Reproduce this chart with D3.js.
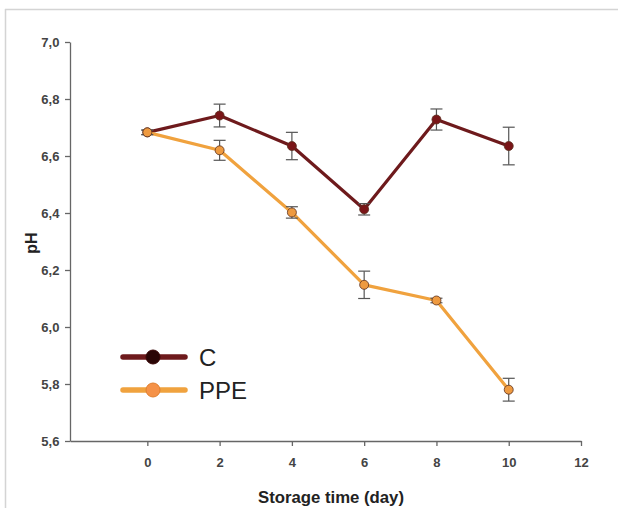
<!DOCTYPE html>
<html><head><meta charset="utf-8">
<script src="https://cdn.jsdelivr.net/npm/d3@7"></script>
<style>body{margin:0;background:#fff;}svg{display:block;font-family:"Liberation Sans",Arial,sans-serif;}</style>
</head><body><svg id="c" width="618" height="508"></svg>
<script>
const days = [0, 2, 4, 6, 8, 10];
const cValues = [6.683, 6.742, 6.635, 6.413, 6.728, 6.635];
const cErrors = [0.008, 0.040, 0.048, 0.020, 0.037, 0.066];
const ppeValues = [6.683, 6.620, 6.402, 6.148, 6.093, 5.780];
const ppeErrors = [0.008, 0.035, 0.020, 0.048, 0.008, 0.040];
const xTicks = [0, 2, 4, 6, 8, 10, 12];
const yTicks = [5.6, 5.8, 6.0, 6.2, 6.4, 6.6, 6.8, 7.0];
const seriesNames = ["C", "PPE"];

const svg = d3.select("#c");
// outer frame
svg.append("line").attr("x1",5).attr("x2",618).attr("y1",9.5).attr("y2",9.5).attr("stroke","#d4d4d4").attr("stroke-width",1.5);
svg.append("line").attr("x1",5.5).attr("x2",5.5).attr("y1",9).attr("y2",508).attr("stroke","#d4d4d4").attr("stroke-width",1.5);

const x = d3.scaleLinear().domain([-2.14, 12]).range([70, 581]);
const y = d3.scaleLinear().domain([5.6, 7.0]).range([441, 42]);

const fmt = d => d.toFixed(1).replace(".", ",");
const xAxis = svg.append("g").attr("transform","translate(0,441)")
  .call(d3.axisBottom(x).tickValues(xTicks).tickSize(5).tickSizeOuter(0).tickFormat(d3.format("d")));
const yAxis = svg.append("g").attr("transform","translate(70,0)")
  .call(d3.axisLeft(y).tickValues(yTicks).tickSize(5).tickSizeOuter(0).tickFormat(fmt));
[xAxis, yAxis].forEach(g => {
  g.select(".domain").attr("stroke","#666").attr("stroke-width",1.3);
  g.selectAll(".tick line").attr("stroke","#666").attr("stroke-width",1.3);
  g.selectAll("text").attr("fill","#444").attr("font-size",13).attr("font-weight","bold").attr("font-family","'Liberation Sans',Arial,sans-serif");
});
xAxis.selectAll("text").attr("dy","1.35em");
yAxis.selectAll("text").attr("dx","-0.2em");

svg.append("text").attr("x",331).attr("y",503).attr("text-anchor","middle")
  .attr("font-size",16).attr("font-weight","bold").attr("fill","#222").attr("textLength",146).attr("lengthAdjust","spacingAndGlyphs").text("Storage time (day)");
svg.append("text").attr("transform","translate(37,243) rotate(-90)").attr("text-anchor","middle")
  .attr("font-size",16).attr("font-weight","bold").attr("fill","#222").text("pH");

const series = [
  {name: seriesNames[0], vals: cValues, errs: cErrors, line: "#6e1a1c", fill: "#7a1518", lfill: "#2a0606"},
  {name: seriesNames[1], vals: ppeValues, errs: ppeErrors, line: "#f0a23e", fill: "#ee9a40", lfill: "#f59248"}
];
const line = d3.line().x(d => x(d[0])).y(d => y(d[1]));

series.forEach(s => {
  const g = svg.append("g");
  const pts = days.map((d,i) => [d, s.vals[i], s.errs[i]]);
  g.append("path").datum(pts).attr("d", line).attr("fill","none")
    .attr("stroke", s.line).attr("stroke-width", 3.2).attr("stroke-linejoin","round");
  pts.forEach(p => {
    const cx = x(p[0]);
    g.append("line").attr("x1",cx).attr("x2",cx).attr("y1",y(p[1]+p[2])).attr("y2",y(p[1]-p[2])).attr("stroke","#555").attr("stroke-width",1.2);
    [p[1]+p[2], p[1]-p[2]].forEach(v => g.append("line").attr("x1",cx-6).attr("x2",cx+6).attr("y1",y(v)).attr("y2",y(v)).attr("stroke","#555").attr("stroke-width",1.2));
  });
  g.selectAll("circle").data(pts).join("circle").attr("cx",p=>x(p[0])).attr("cy",p=>y(p[1])).attr("r",4.5)
    .attr("fill", s.fill).attr("stroke","#5a3020").attr("stroke-width",0.8);
});

// legend
series.forEach((s,i) => {
  const ly = 357 + i*33;
  svg.append("line").attr("x1",123).attr("x2",185).attr("y1",ly).attr("y2",ly).attr("stroke",s.line).attr("stroke-width",5.5).attr("stroke-linecap","round");
  svg.append("circle").attr("cx",153).attr("cy",ly).attr("r",7).attr("fill",s.lfill).attr("stroke", i===0?"#3a0808":"#e08030").attr("stroke-width",1);
  svg.append("text").attr("x",199).attr("y",ly+9).attr("font-size",24).attr("fill","#222").text(s.name);
});
</script></body></html>
